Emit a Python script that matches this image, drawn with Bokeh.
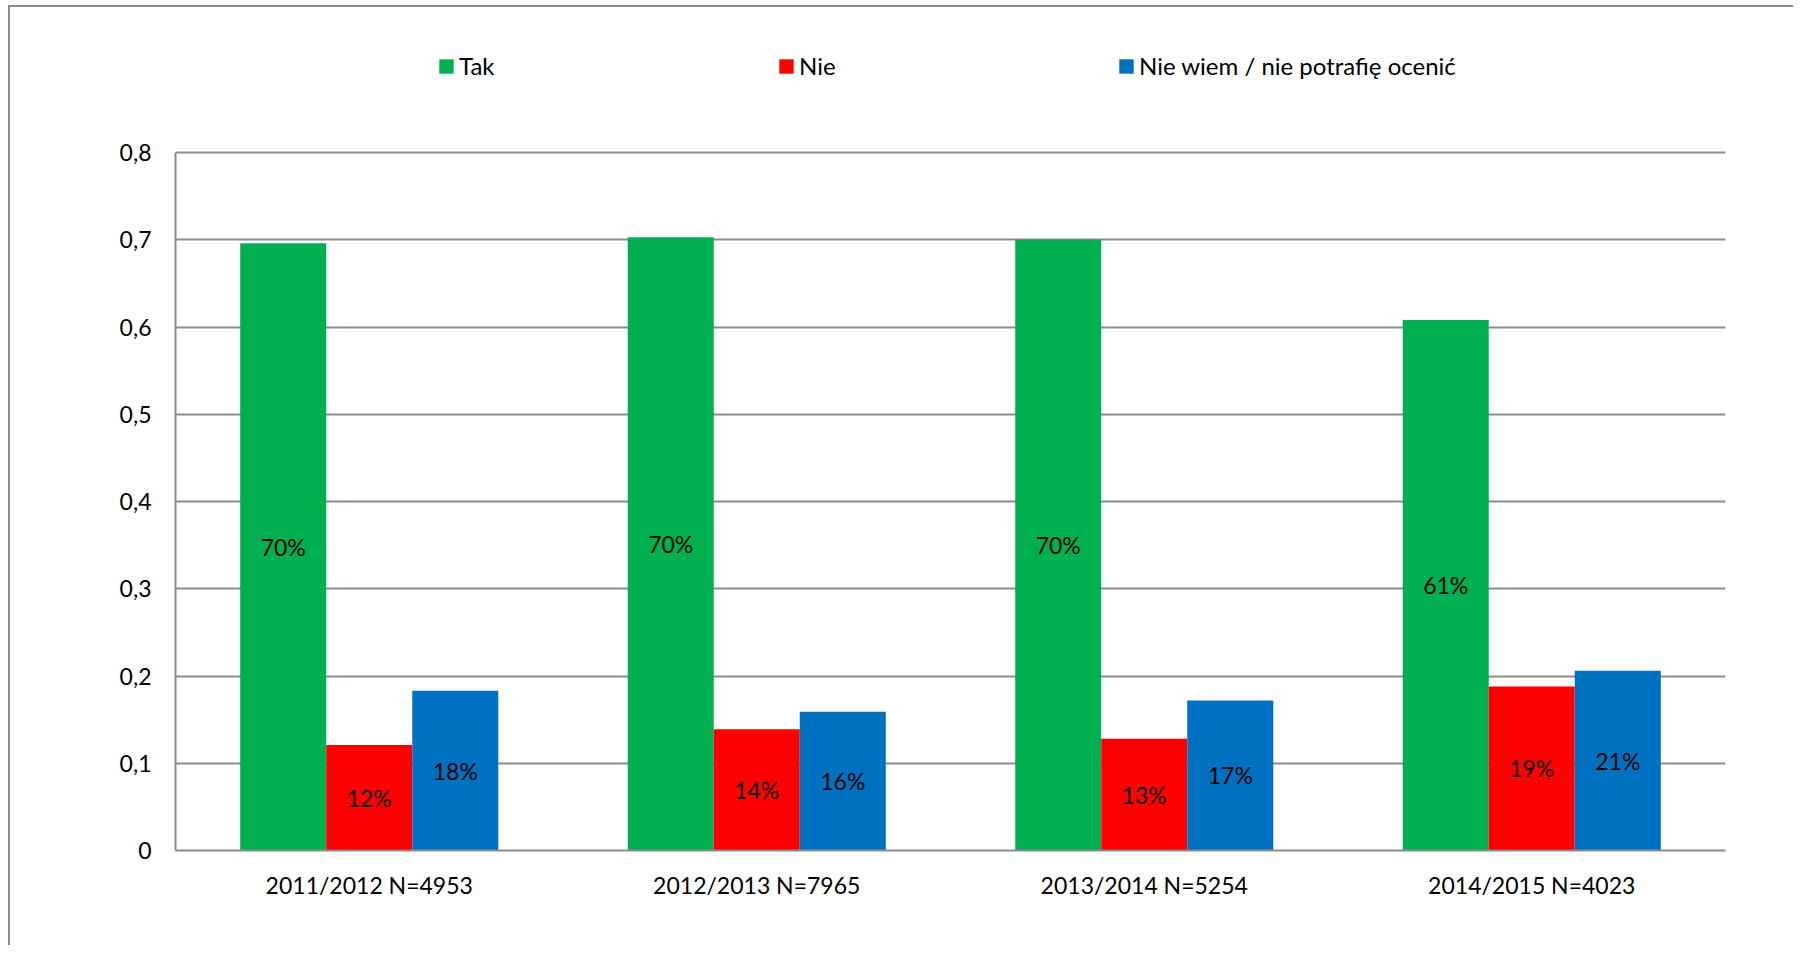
from bokeh.plotting import figure
from bokeh.models import (FactorRange, ColumnDataSource, FixedTicker, Legend, LegendItem,
                          LabelSet, Range1d)
from bokeh.core.properties import value
from bokeh.transform import dodge
from bokeh.embed import file_html
from bokeh.resources import INLINE

categories = ["2011/2012 N=4953", "2012/2013 N=7965", "2013/2014 N=5254", "2014/2015 N=4023"]
series_names = ["Tak", "Nie", "Nie wiem / nie potrafię ocenić"]
tak = [0.696, 0.703, 0.700, 0.608]
nie = [0.121, 0.139, 0.128, 0.188]
nie_wiem = [0.183, 0.159, 0.172, 0.206]
colors = ["#00B050", "#FF0000", "#0070C0"]
y_ticks = [0, 0.1, 0.2, 0.3, 0.4, 0.5, 0.6, 0.7, 0.8]
y_tick_labels = ["0", "0,1", "0,2", "0,3", "0,4", "0,5", "0,6", "0,7", "0,8"]

FONT = "Lato"
FS = "23px"

def pct(v):
    return f"{int(v * 100 + 0.5)}%"

src = ColumnDataSource(dict(
    cat=categories,
    tak=tak, nie=nie, nie_wiem=nie_wiem,
    tak_mid=[v / 2 for v in tak], nie_mid=[v / 2 for v in nie], nw_mid=[v / 2 for v in nie_wiem],
    tak_lbl=[pct(v) for v in tak], nie_lbl=[pct(v) for v in nie], nw_lbl=[pct(v) for v in nie_wiem],
))

# frame spans from the legend row down to zero; the value axis itself stops at 0.8
FRAME_TOP_PAD = 33
Y_END = 0.8 * 810 / 698

p = figure(x_range=FactorRange(*categories, range_padding=0), y_range=Range1d(0, Y_END),
           width=1785, height=940, output_backend="svg", toolbar_location=None,
           min_border_left=165, min_border_right=70, min_border_top=FRAME_TOP_PAD,
           min_border_bottom=97)
p.styles = {"border-left": "2px solid #8c8c8c", "border-top": "2px solid #8c8c8c",
            "margin-left": "8px", "margin-top": "5px"}
p.outline_line_color = None
p.background_fill_color = "white"
p.border_fill_color = "white"

W = 0.222
keys = ["tak", "nie", "nie_wiem"]
mids = ["tak_mid", "nie_mid", "nw_mid"]
lbls = ["tak_lbl", "nie_lbl", "nw_lbl"]
offsets = [-W, 0, W]
renderers = []
for k, c, off in zip(keys, colors, offsets):
    r = p.vbar(x=dodge("cat", off, range=p.x_range), top=k, width=W, source=src,
               fill_color=c, line_color=None)
    renderers.append(r)

for m, l, off in zip(mids, lbls, offsets):
    ls = LabelSet(x=dodge("cat", off, range=p.x_range), y=m, text=l, source=src,
                  text_align="center", text_baseline="middle", text_font=value(FONT),
                  text_font_size=value(FS), text_color="black")
    p.add_layout(ls)

p.yaxis.ticker = FixedTicker(ticks=y_ticks)
p.yaxis.bounds = (0, 0.8)
p.yaxis.major_label_overrides = {t: s for t, s in zip(y_ticks, y_tick_labels)}
p.yaxis.major_tick_out = 0
p.yaxis.major_tick_in = 0
p.yaxis.minor_tick_out = 0
p.yaxis.minor_tick_in = 0
p.yaxis.axis_line_color = "#8c8c8c"
p.yaxis.axis_line_width = 2
p.yaxis.major_label_standoff = 24
p.yaxis.major_label_text_font = FONT
p.yaxis.major_label_text_font_size = FS
p.yaxis.major_label_text_color = "black"

p.xaxis.major_tick_out = 0
p.xaxis.major_tick_in = 0
p.xaxis.axis_line_color = "#8c8c8c"
p.xaxis.axis_line_width = 2
p.xaxis.major_label_standoff = 20
p.xaxis.major_label_text_font = FONT
p.xaxis.major_label_text_font_size = FS
p.xaxis.major_label_text_color = "black"

p.xgrid.grid_line_color = None
p.ygrid.grid_line_color = "#8c8c8c"
p.ygrid.grid_line_width = 2
p.ygrid.bounds = (0, 0.8)

legend = Legend(items=[LegendItem(label=n, renderers=[r]) for n, r in zip(series_names, renderers)],
                orientation="horizontal", location=(262, 770),
                label_text_font=FONT, label_text_font_size="24px", label_text_color="black",
                glyph_width=18, glyph_height=18, label_standoff=4, label_width=318,
                spacing=0, padding=0, margin=0, border_line_color=None,
                background_fill_alpha=0)
p.add_layout(legend, "center")

open("out.html", "w").write(file_html(p, INLINE))
